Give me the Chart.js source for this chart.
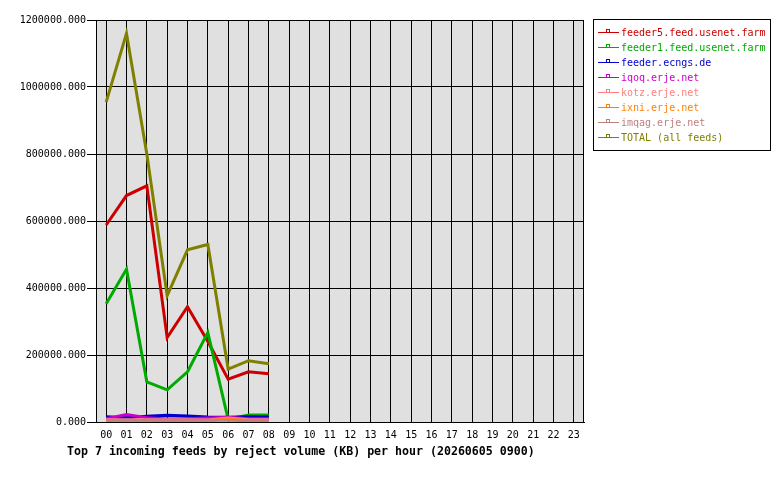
<!DOCTYPE html>
<html>
<head>
<meta charset="utf-8">
<script src="https://cdn.jsdelivr.net/npm/chart.js@4.4.0/dist/chart.umd.min.js"></script>
<style>
  html, body { margin: 0; padding: 0; background: #fff; }
  #wrap { width: 780px; height: 480px; }
</style>
</head>
<body>
<div id="wrap"><canvas id="myChart" width="780" height="480"></canvas></div>
<script>
var hours = ['00','01','02','03','04','05','06','07','08','09','10','11',
             '12','13','14','15','16','17','18','19','20','21','22','23'];
var yTicks = [0, 200000, 400000, 600000, 800000, 1000000, 1200000];

var feedNames = ['feeder5.feed.usenet.farm', 'feeder1.feed.usenet.farm', 'feeder.ecngs.de',
                 'iqoq.erje.net', 'kotz.erje.net', 'ixni.erje.net', 'imqag.erje.net', 'TOTAL (all feeds)'];
var feedColors = ['#cc0000', '#00aa00', '#0000cc', '#cc00cc', '#ff8080', '#ff8000', '#c08080', '#808000'];

var feeder5 = [588000, 676000, 705000, 252000, 344000, 240000, 128000, 150000, 144000];
var feeder1 = [353000, 456000, 120000, 96000, 150000, 267000, 8000, 21000, 21000];
var ecngs   = [16000, 13000, 17000, 20000, 18000, 15000, 14000, 16000, 15000];
var iqoq    = [10000, 22000, 13000, 9000, 10000, 12000, 14000, 10000, 10000];
var kotz    = [7000, 7000, 7000, 7000, 7000, 6000, 12000, 7000, 7000];
var ixni    = [3000, 3000, 3000, 3000, 3000, 3000, 10000, 4000, 3000];
var imqag   = [4000, 4000, 5000, 5000, 5000, 5000, 5000, 4000, 4000];
var total   = [955000, 1160000, 800000, 377000, 514000, 530000, 158000, 183000, 174000];

var series = [feeder5, feeder1, ecngs, iqoq, kotz, ixni, imqag, total];

var mono = "'DejaVu Sans Mono', 'Liberation Mono', monospace";

var datasets = series.map(function (d, i) {
	return {
		label: feedNames[i],
		data: d,
		borderColor: feedColors[i],
		backgroundColor: feedColors[i],
		borderWidth: 3,
		pointRadius: 0,
		tension: 0,
		fill: false,
		order: series.length - i
	};
});

// grey plot area + white page
var plotBack = {
	id: 'plotBack',
	beforeDraw: function (chart) {
		var ctx = chart.ctx, a = chart.chartArea;
		ctx.save();
		ctx.fillStyle = '#ffffff';
		ctx.fillRect(0, 0, chart.width, chart.height);
		ctx.fillStyle = '#e0e0e0';
		ctx.fillRect(a.left, a.top, a.right - a.left, a.bottom - a.top);
		ctx.restore();
	}
};

// frame, legend box and caption
var extras = {
	id: 'extras',
	afterDraw: function (chart) {
		var ctx = chart.ctx, a = chart.chartArea;
		ctx.save();
		ctx.strokeStyle = '#000';
		ctx.lineWidth = 1;
		ctx.strokeRect(Math.round(a.left) + 0.5, Math.round(a.top) + 0.5,
			Math.round(a.right - a.left) - 1, Math.round(a.bottom - a.top));

		// legend
		ctx.strokeRect(593.5, 19.5, 177, 131);
		ctx.font = '10px ' + mono;
		ctx.textBaseline = 'middle';
		ctx.textAlign = 'left';
		chart.data.datasets.forEach(function (ds, i) {
			var y = 32 + 15 * i;
			ctx.strokeStyle = ds.borderColor;
			ctx.beginPath();
			ctx.moveTo(598, y + 0.5);
			ctx.lineTo(619, y + 0.5);
			ctx.stroke();
			ctx.strokeRect(606.5, y - 2.5, 3, 3);
			ctx.fillStyle = ds.borderColor;
			ctx.fillText(ds.label, 621, y + 1);
		});

		// caption
		ctx.fillStyle = '#000';
		ctx.font = 'bold 11.6px ' + mono;
		ctx.fillText('Top 7 incoming feeds by reject volume (KB) per hour (20260605 0900)', 67, 452);
		ctx.restore();
	}
};

var myChart = document.getElementById('myChart').getContext('2d');

var chart = new Chart(myChart, {
	type: 'line',
	data: {
		labels: hours,
		datasets: datasets
	},
	options: {
		responsive: false,
		animation: false,
		layout: {
			padding: { top: 20, right: 196, left: 0, bottom: 0 }
		},
		plugins: {
			legend: { display: false },
			title: { display: false },
			tooltip: { enabled: false }
		},
		scales: {
			x: {
				offset: true,
				afterFit: function (s) { s.height = 58; },
				grid: { color: '#000', lineWidth: 1, drawTicks: false, offset: false },
				border: { color: '#000', width: 1 },
				ticks: {
					color: '#000',
					font: { family: mono, size: 10 },
					padding: 7,
					maxRotation: 0,
					autoSkip: false
				}
			},
			y: {
				min: 0,
				max: 1200000,
				afterFit: function (s) { s.width = 96; },
				afterBuildTicks: function (s) {
					s.ticks = yTicks.map(function (v) { return { value: v }; });
				},
				grid: { color: '#000', lineWidth: 1, tickLength: 9 },
				border: { color: '#000', width: 1 },
				ticks: {
					color: '#000',
					font: { family: mono, size: 10 },
					padding: 1,
					callback: function (v) { return v.toFixed(3); }
				}
			}
		}
	},
	plugins: [plotBack, extras]
});
</script>
</body>
</html>
